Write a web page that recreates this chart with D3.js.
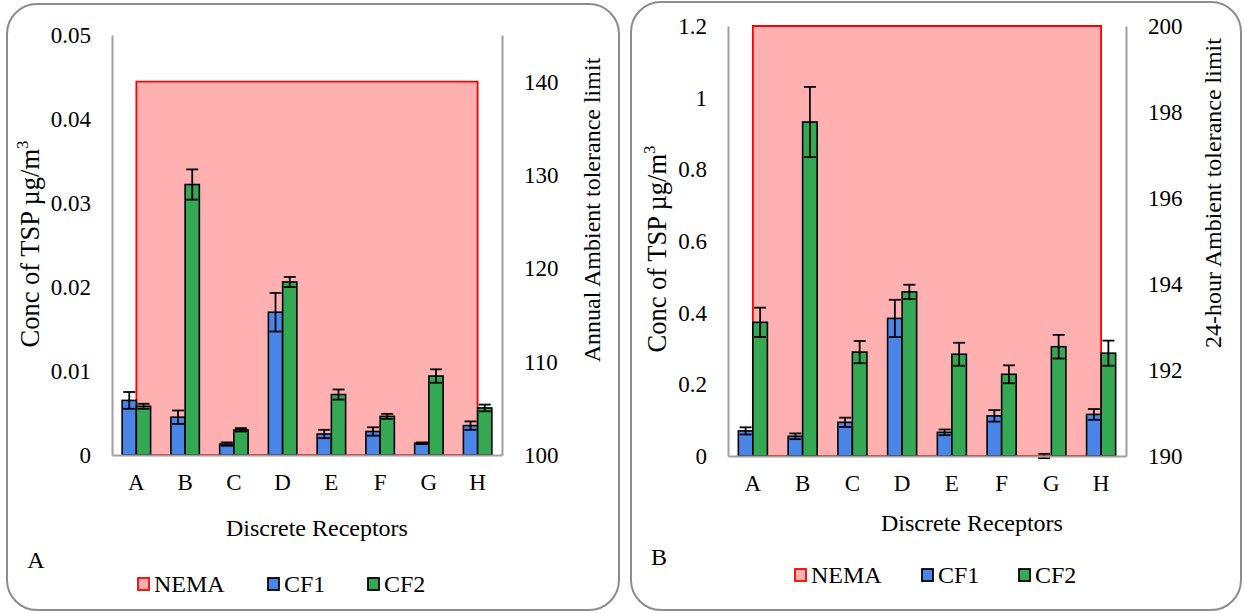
<!DOCTYPE html>
<html>
<head>
<meta charset="utf-8">
<script src="https://cdn.jsdelivr.net/npm/d3@7"></script>
<style>
  body { margin: 0; background: #fff; }
  text { font-family: "Liberation Serif", "Times New Roman", serif; fill: #000; }
</style>
</head>
<body>
<svg id="chart" width="1244" height="613"></svg>
<script>
// Discrete receptor locations
const receptors = ["A", "B", "C", "D", "E", "F", "G", "H"];

// Annual TSP concentrations (µg/m³) with error margins
const annualCF1    = [0.0065, 0.0045, 0.0013, 0.0170, 0.0025, 0.0028, 0.0014, 0.0035];
const annualCF1Err = [0.0010, 0.0008, 0.0002, 0.0023, 0.0005, 0.0005, 0.0001, 0.0005];
const annualCF2    = [0.0058, 0.0322, 0.0030, 0.0206, 0.0072, 0.0046, 0.0094, 0.0056];
const annualCF2Err = [0.0003, 0.0018, 0.0002, 0.0006, 0.0006, 0.0003, 0.0008, 0.0004];
// NEMA annual ambient tolerance limit (secondary axis)
const annualNEMA   = [140, 140, 140, 140, 140, 140, 140, 140];

// 24-hour TSP concentrations (µg/m³) with error margins
const dailyCF1     = [0.070, 0.055, 0.094, 0.384, 0.066, 0.112, 0.000, 0.116];
const dailyCF1Err  = [0.010, 0.008, 0.013, 0.052, 0.008, 0.016, 0.006, 0.015];
const dailyCF2     = [0.373, 0.932, 0.290, 0.458, 0.284, 0.228, 0.305, 0.287];
const dailyCF2Err  = [0.041, 0.098, 0.031, 0.020, 0.032, 0.025, 0.033, 0.035];
// NEMA 24-hour ambient tolerance limit (secondary axis)
const dailyNEMA    = [200, 200, 200, 200, 200, 200, 200, 200];

// Axis ticks
const annualLeftTicks  = [0, 0.01, 0.02, 0.03, 0.04, 0.05];
const annualRightTicks = [100, 110, 120, 130, 140];
const dailyLeftTicks   = [0, 0.2, 0.4, 0.6, 0.8, 1, 1.2];
const dailyRightTicks  = [190, 192, 194, 196, 198, 200];

const seriesNames = ["NEMA", "CF1", "CF2"];
const colors = { NEMA: "#ffb1b1", NEMAline: "#ff0000", CF1: "#4a86e8", CF2: "#34a853" };

const svg = d3.select("#chart");

const panels = [
  {
    letter: "A",
    box: { x: 7, y: 4, w: 612, h: 606 },
    plot: { left: 112, right: 502, top: 35, bottom: 455 },
    leftDomain: [0, 0.05], rightDomain: [100, 145],
    leftTicks: annualLeftTicks, rightTicks: annualRightTicks,
    leftFmt: d => d === 0 ? "0" : d.toFixed(2),
    cf1: annualCF1, cf1Err: annualCF1Err, cf2: annualCF2, cf2Err: annualCF2Err, nema: annualNEMA,
    rightTitle: "Annual Ambient tolerance limit",
    leftTitlePos: { x: 30, y: 244 }, rightTitlePos: { x: 592, y: 210 },
    xTitlePos: { x: 317, y: 528 }, letterPos: { x: 36, y: 560 },
    legend: { y: 584, squares: [137, 267, 367] }
  },
  {
    letter: "B",
    box: { x: 631, y: 2, w: 610, h: 608 },
    plot: { left: 728, right: 1126, top: 26, bottom: 456 },
    leftDomain: [0, 1.2], rightDomain: [190, 200],
    leftTicks: dailyLeftTicks, rightTicks: dailyRightTicks,
    leftFmt: d => String(+d.toFixed(1)),
    cf1: dailyCF1, cf1Err: dailyCF1Err, cf2: dailyCF2, cf2Err: dailyCF2Err, nema: dailyNEMA,
    rightTitle: "24-hour Ambient tolerance limit",
    leftTitlePos: { x: 657, y: 249 }, rightTitlePos: { x: 1213, y: 193 },
    xTitlePos: { x: 972, y: 523 }, letterPos: { x: 659, y: 557 },
    legend: { y: 575, squares: [794, 921, 1018] }
  }
];

panels.forEach(drawPanel);

function drawPanel(p) {
  const g = svg.append("g");

  // rounded frame
  g.append("rect")
    .attr("x", p.box.x).attr("y", p.box.y)
    .attr("width", p.box.w).attr("height", p.box.h)
    .attr("rx", 30).attr("ry", 30)
    .attr("fill", "#fff").attr("stroke", "#8c8c8c").attr("stroke-width", 2);

  const x = d3.scaleBand().domain(receptors).range([p.plot.left, p.plot.right]);
  const y = d3.scaleLinear().domain(p.leftDomain).range([p.plot.bottom, p.plot.top]);
  const y2 = d3.scaleLinear().domain(p.rightDomain).range([p.plot.bottom, p.plot.top]);
  const barW = x.bandwidth() * 0.292;
  const cx = d => x(d) + x.bandwidth() / 2;

  // NEMA limit as an area on the secondary axis
  const area = d3.area()
    .x((d, i) => cx(receptors[i]))
    .y0(p.plot.bottom)
    .y1(d => y2(d));
  g.append("path")
    .attr("d", area(p.nema))
    .attr("fill", colors.NEMA)
    .attr("stroke", colors.NEMAline)
    .attr("stroke-width", 1.8);

  // bars
  const series = [
    { key: "CF1", vals: p.cf1, errs: p.cf1Err, off: -barW },
    { key: "CF2", vals: p.cf2, errs: p.cf2Err, off: 0 }
  ];
  series.forEach(s => {
    g.append("g").selectAll("rect")
      .data(receptors)
      .join("rect")
      .attr("x", d => cx(d) + s.off)
      .attr("y", (d, i) => y(s.vals[i]))
      .attr("width", barW)
      .attr("height", (d, i) => y(0) - y(s.vals[i]))
      .attr("fill", colors[s.key])
      .attr("stroke", "#000")
      .attr("stroke-width", 1.6);
  });

  // error bars
  series.forEach(s => {
    const eg = g.append("g").attr("stroke", "#000").attr("stroke-width", 1.8);
    receptors.forEach((d, i) => {
      const mx = cx(d) + s.off + barW / 2;
      const hi = y(s.vals[i] + s.errs[i]);
      const lo = y(s.vals[i] - s.errs[i]);
      eg.append("line").attr("x1", mx).attr("x2", mx).attr("y1", hi).attr("y2", lo);
      eg.append("line").attr("x1", mx - 6).attr("x2", mx + 6).attr("y1", hi).attr("y2", hi);
      eg.append("line").attr("x1", mx - 6).attr("x2", mx + 6).attr("y1", lo).attr("y2", lo);
    });
  });

  // axes
  const axisColor = "#a0a0a0";
  const left = g.append("g").attr("transform", `translate(${p.plot.left},0)`)
    .call(d3.axisLeft(y).tickValues(p.leftTicks).tickFormat(p.leftFmt).tickSize(0).tickPadding(21));
  const right = g.append("g").attr("transform", `translate(${p.plot.right},0)`)
    .call(d3.axisRight(y2).tickValues(p.rightTicks).tickFormat(d3.format("d")).tickSize(0).tickPadding(22));
  const bottom = g.append("g").attr("transform", `translate(0,${p.plot.bottom})`)
    .call(d3.axisBottom(x).tickSize(0).tickPadding(19));
  [left, right, bottom].forEach(a => {
    a.select(".domain").attr("stroke", axisColor).attr("stroke-width", 2);
    a.selectAll("text").style("font-family", '"Liberation Serif","Times New Roman",serif')
      .style("font-size", "23px").attr("fill", "#000");
  });
  bottom.selectAll("text").attr("dy", "0.71em");

  // axis titles
  const lt = g.append("text")
    .attr("transform", `translate(${p.leftTitlePos.x},${p.leftTitlePos.y}) rotate(-90)`)
    .attr("text-anchor", "middle").attr("dominant-baseline", "central")
    .style("font-size", "26.5px");
  lt.append("tspan").text("Conc of TSP µg/m");
  lt.append("tspan").text("3").attr("dy", "-0.45em").style("font-size", "17px");

  g.append("text")
    .attr("transform", `translate(${p.rightTitlePos.x},${p.rightTitlePos.y}) rotate(-90)`)
    .attr("text-anchor", "middle").attr("dominant-baseline", "central")
    .style("font-size", "24px")
    .text(p.rightTitle);

  g.append("text")
    .attr("x", p.xTitlePos.x).attr("y", p.xTitlePos.y)
    .attr("text-anchor", "middle").attr("dominant-baseline", "central")
    .style("font-size", "24px")
    .text("Discrete Receptors");

  g.append("text")
    .attr("x", p.letterPos.x).attr("y", p.letterPos.y)
    .attr("text-anchor", "middle").attr("dominant-baseline", "central")
    .style("font-size", "24px")
    .text(p.letter);

  // legend
  const lg = g.append("g");
  seriesNames.forEach((name, i) => {
    const sx = p.legend.squares[i];
    lg.append("rect")
      .attr("x", sx + 1).attr("y", p.legend.y - 6)
      .attr("width", 11).attr("height", 12)
      .attr("fill", colors[name])
      .attr("stroke", name === "NEMA" ? colors.NEMAline : "#000")
      .attr("stroke-width", 1.8);
    lg.append("text")
      .attr("x", sx + 17).attr("y", p.legend.y)
      .attr("dominant-baseline", "central")
      .style("font-size", "24px")
      .text(name);
  });
}
</script>
</body>
</html>
